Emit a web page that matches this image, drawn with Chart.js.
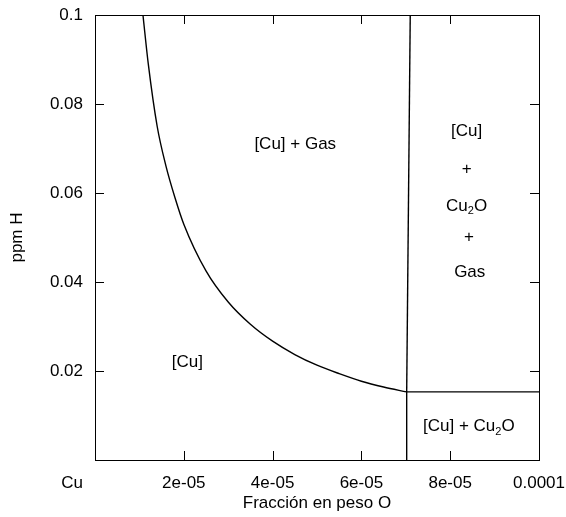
<!DOCTYPE html>
<html>
<head>
<meta charset="utf-8">
<script src="https://cdn.jsdelivr.net/npm/chart.js@4.4.1/dist/chart.umd.min.js"></script>
<style>
html,body{margin:0;padding:0;background:#fff;}
</style>
</head>
<body>
<canvas id="phaseChart" width="566" height="517"></canvas>
<script>
/* DATA */
const curveX=[1.08e-5,1.2e-5,1.4e-5,1.6e-5,1.8e-5,2.0e-5,2.5e-5,3.0e-5,3.5e-5,4.0e-5,4.5e-5,5.0e-5,5.5e-5,6.0e-5,6.5e-5,7.02e-5];
const curveY=[0.1,0.089,0.075,0.066,0.059,0.053,0.0425,0.0355,0.0305,0.0267,0.0237,0.0213,0.0194,0.0177,0.0164,0.0153];

const upperX=[7.02e-5,7.1e-5];
const upperY=[0.0153,0.1];

const lowerX=[7.02e-5,7.02e-5];
const lowerY=[0,0.0153];

const shelfX=[7.02e-5,1e-4];
const shelfY=[0.0153,0.0153];

const xTicks=[0,2e-5,4e-5,6e-5,8e-5,1e-4];
const xTickLabels=["","2e-05","4e-05","6e-05","8e-05","0.0001"];
const yTicks=[0,0.02,0.04,0.06,0.08,0.1];
const yTickLabels=["","0.02","0.04","0.06","0.08","0.1"];

/* region labels */
const regionText=[
    [{t:"[Cu] + Gas"}],
    [{t:"[Cu]"}],
    [{t:"[Cu]"}],
    [{t:"+"}],
    [{t:"Cu"},{t:"2",sub:true},{t:"O"}],
    [{t:"+"}],
    [{t:"Gas"}],
    [{t:"[Cu] + Cu"},{t:"2",sub:true},{t:"O"}]
];
const regionX=[4.51e-5,2.08e-5,8.37e-5,8.37e-5,8.37e-5,8.42e-5,8.44e-5,8.42e-5];
const regionY=[0.071,0.022,0.0738,0.0654,0.0571,0.050,0.0422,0.0075];

const FONT="'Liberation Sans', Arial, sans-serif";
const FS=17;

function pts(xs,ys){
    return xs.map((x,i)=>({x:x,y:ys[i]}));
}

/* FRAME, TICKS, LABELS */
const extras={
    id:"extras",
    afterDraw(chart){
        const ctx=chart.ctx;
        const a=chart.chartArea;
        const sx=chart.scales.x;
        const sy=chart.scales.y;

        ctx.save();
        ctx.strokeStyle="#000";
        ctx.lineWidth=1;
        ctx.strokeRect(a.left+0.5,a.top+0.5,a.right-a.left,a.bottom-a.top);

        ctx.beginPath();
        xTicks.forEach(v=>{
            let px=Math.round(sx.getPixelForValue(v))+0.5;
            ctx.moveTo(px,a.bottom);
            ctx.lineTo(px,a.bottom-9);
            ctx.moveTo(px,a.top);
            ctx.lineTo(px,a.top+9);
        });
        yTicks.forEach(v=>{
            let py=Math.round(sy.getPixelForValue(v))+0.5;
            ctx.moveTo(a.left,py);
            ctx.lineTo(a.left+9,py);
            ctx.moveTo(a.right,py);
            ctx.lineTo(a.right-9,py);
        });
        ctx.stroke();

        ctx.fillStyle="#000";
        ctx.textBaseline="middle";

        regionText.forEach((parts,i)=>{
            let cx=sx.getPixelForValue(regionX[i]);
            let cy=sy.getPixelForValue(regionY[i]);
            let w=0;
            parts.forEach(p=>{
                ctx.font=(p.sub?"11px ":FS+"px ")+FONT;
                w+=ctx.measureText(p.t).width;
            });
            let x=cx-w/2;
            parts.forEach(p=>{
                ctx.font=(p.sub?"11px ":FS+"px ")+FONT;
                ctx.textAlign="left";
                ctx.fillText(p.t,x,p.sub?cy+5:cy);
                x+=ctx.measureText(p.t).width;
            });
        });

        ctx.font=FS+"px "+FONT;
        ctx.textAlign="center";
        ctx.fillText("Cu",a.left-23,a.bottom+23);
        ctx.restore();
    }
};

new Chart(
document.getElementById("phaseChart"),
{
    type:"scatter",

    data:{
        datasets:[
            {
                data:pts(curveX,curveY),
                showLine:true,
                borderColor:"#000",
                borderWidth:1.4,
                pointRadius:0,
                cubicInterpolationMode:"monotone"
            },
            {
                data:pts(upperX,upperY),
                showLine:true,
                borderColor:"#000",
                borderWidth:1.4,
                pointRadius:0
            },
            {
                data:pts(lowerX,lowerY),
                showLine:true,
                borderColor:"#000",
                borderWidth:1.4,
                pointRadius:0
            },
            {
                data:pts(shelfX,shelfY),
                showLine:true,
                borderColor:"#000",
                borderWidth:1.4,
                pointRadius:0
            }
        ]
    },

    options:{
        responsive:false,
        animation:false,
        layout:{padding:{top:15,right:27,left:0,bottom:0}},
        plugins:{
            legend:{display:false},
            tooltip:{enabled:false}
        },
        scales:{
            x:{
                type:"linear",
                min:0,
                max:1e-4,
                afterFit(scale){
                    scale.height=57;
                    scale.paddingLeft=0;
                    scale.paddingRight=0;
                },
                afterBuildTicks(scale){ scale.ticks=xTicks.map(v=>({value:v})); },
                grid:{display:false,drawTicks:false},
                border:{display:false},
                ticks:{
                    padding:13,
                    color:"#000",
                    font:{family:FONT,size:FS},
                    maxRotation:0,
                    callback:(v,i)=>xTickLabels[i]
                },
                title:{
                    display:true,
                    text:"Fracción en peso O",
                    color:"#000",
                    font:{family:FONT,size:FS},
                    padding:{top:0,bottom:3}
                }
            },
            y:{
                type:"linear",
                min:0,
                max:0.1,
                afterFit(scale){
                    scale.width=95;
                    scale.paddingTop=0;
                    scale.paddingBottom=0;
                },
                afterBuildTicks(scale){ scale.ticks=yTicks.map(v=>({value:v})); },
                grid:{display:false,drawTicks:false},
                border:{display:false},
                ticks:{
                    padding:12,
                    color:"#000",
                    font:{family:FONT,size:FS},
                    callback:(v,i)=>yTickLabels[i]
                },
                title:{
                    display:true,
                    text:"ppm H",
                    color:"#000",
                    font:{family:FONT,size:FS},
                    padding:{top:7,bottom:0}
                }
            }
        }
    },
    plugins:[extras]
});
</script>
</body>
</html>
